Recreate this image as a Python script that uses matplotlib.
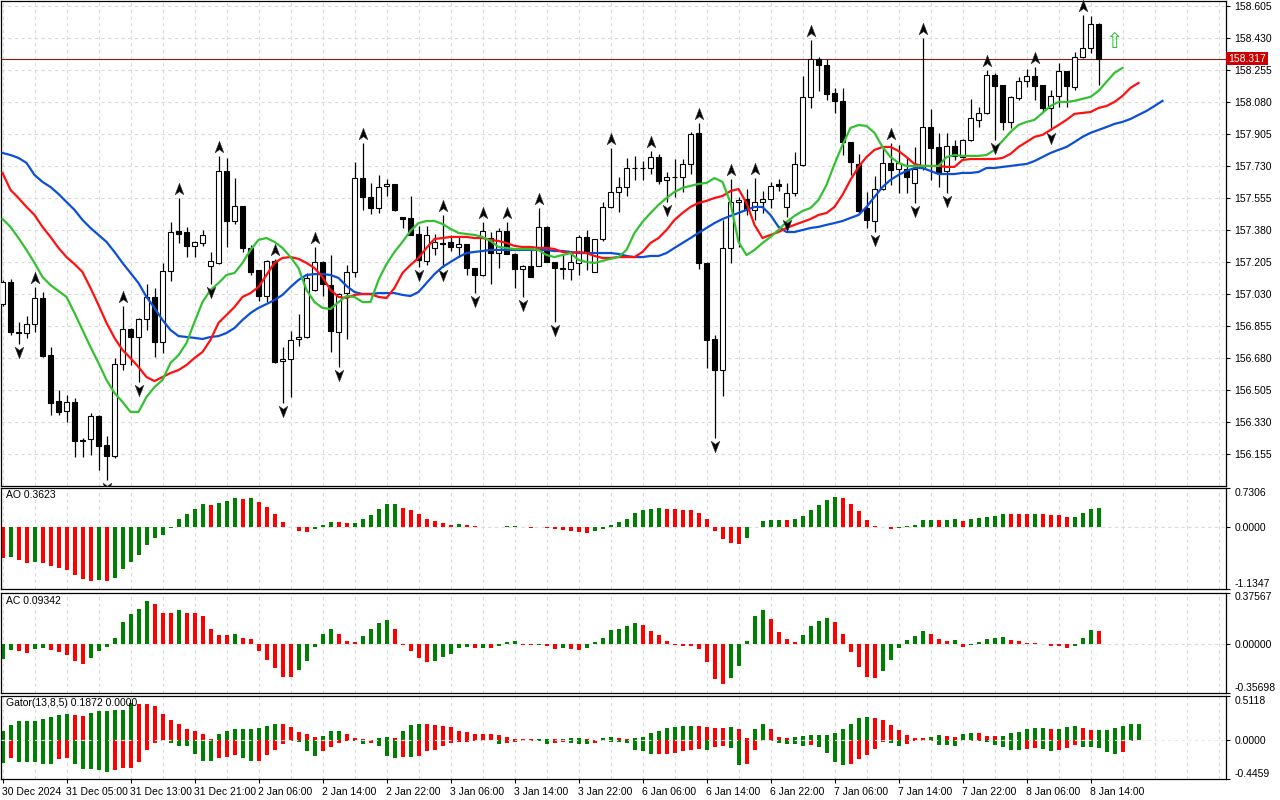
import numpy as np
import matplotlib.pyplot as plt
from matplotlib.path import Path
from matplotlib.transforms import ScaledTranslation, blended_transform_factory

plt.rcParams['font.family'] = ['Liberation Sans', 'DejaVu Sans']

# Hourly candles, 30 Dec 2024 21:00 .. 8 Jan 2025 15:00
opens = [
    156.975, 157.096, 156.822, 156.817, 156.866, 157.008, 156.696, 156.445, 156.390, 156.440,
    156.232, 156.237, 156.363, 156.204, 156.144, 156.647, 156.839, 156.795, 156.893, 157.014,
    156.768, 157.156, 157.375, 157.369, 157.293, 157.309, 157.183, 157.200, 157.703, 157.429,
    157.511, 157.282, 157.161, 157.019, 157.211, 156.664, 156.675, 156.784, 156.795, 157.052,
    157.205, 157.079, 156.822, 157.035, 157.150, 157.664, 157.561, 157.500, 157.621, 157.632,
    157.451, 157.446, 157.358, 157.211, 157.282, 157.309, 157.315, 157.287, 157.304, 157.172,
    157.134, 157.336, 157.254, 157.375, 157.249, 157.167, 157.183, 157.183, 157.397, 157.205,
    157.172, 157.167, 157.200, 157.342, 157.150, 157.331, 157.506, 157.588, 157.615, 157.719,
    157.719, 157.719, 157.779, 157.654, 157.670, 157.670, 157.741, 157.911, 157.200, 156.784,
    156.614, 157.282, 157.533, 157.550, 157.490, 157.533, 157.550, 157.632, 157.506, 157.583,
    157.736, 158.108, 158.315, 158.282, 158.129, 158.086, 157.861, 157.741, 157.500, 157.429,
    157.604, 157.747, 157.714, 157.714, 157.637, 157.719, 157.943, 157.834, 157.703, 157.840,
    157.779, 157.872, 157.982, 158.020, 158.228, 158.173, 157.971, 158.102, 158.195, 158.222,
    158.173, 158.047, 158.113, 158.250, 158.162, 158.326, 158.375, 158.507]
highs = [
    157.107, 157.112, 156.877, 156.910, 157.068, 157.041, 156.740, 156.505, 156.478, 156.461,
    156.243, 156.379, 156.368, 156.253, 156.680, 156.964, 156.844, 156.899, 157.085, 157.063,
    157.200, 157.424, 157.555, 157.397, 157.320, 157.380, 157.260, 157.785, 157.774, 157.664,
    157.511, 157.298, 157.161, 157.216, 157.222, 156.740, 156.828, 156.921, 157.145, 157.287,
    157.211, 157.243, 157.035, 157.189, 157.752, 157.856, 157.637, 157.681, 157.659, 157.632,
    157.451, 157.566, 157.402, 157.402, 157.358, 157.462, 157.353, 157.347, 157.304, 157.172,
    157.424, 157.369, 157.391, 157.424, 157.254, 157.189, 157.293, 157.500, 157.402, 157.205,
    157.243, 157.254, 157.353, 157.380, 157.331, 157.533, 157.829, 157.670, 157.774, 157.785,
    157.757, 157.812, 157.796, 157.697, 157.768, 157.768, 157.916, 157.965, 157.205, 156.806,
    157.435, 157.659, 157.561, 157.604, 157.664, 157.593, 157.643, 157.659, 157.637, 157.807,
    158.222, 158.419, 158.326, 158.315, 158.157, 158.157, 157.861, 157.796, 157.588, 157.675,
    157.829, 157.856, 157.845, 157.779, 157.834, 158.430, 158.042, 157.911, 157.911, 157.872,
    157.878, 158.097, 158.053, 158.255, 158.239, 158.173, 158.113, 158.217, 158.261, 158.272,
    158.173, 158.146, 158.293, 158.250, 158.354, 158.556, 158.551, 158.512]
lows = [
    156.964, 156.806, 156.757, 156.790, 156.822, 156.685, 156.368, 156.368, 156.330, 156.139,
    156.139, 156.150, 156.068, 156.013, 156.133, 156.614, 156.642, 156.549, 156.833, 156.685,
    156.707, 157.101, 157.309, 157.232, 157.232, 157.293, 157.085, 157.194, 157.287, 157.413,
    157.260, 157.134, 156.992, 156.986, 156.653, 156.434, 156.467, 156.746, 156.790, 157.046,
    157.019, 156.713, 156.631, 156.784, 157.123, 157.490, 157.468, 157.473, 157.566, 157.484,
    157.391, 157.353, 157.178, 157.189, 157.243, 157.178, 157.265, 157.232, 157.134, 157.035,
    157.129, 157.085, 157.172, 157.249, 157.063, 157.014, 157.123, 157.183, 157.205, 156.877,
    157.112, 157.107, 157.134, 157.161, 157.150, 157.320, 157.500, 157.479, 157.566, 157.654,
    157.654, 157.686, 157.632, 157.533, 157.561, 157.588, 157.686, 157.167, 156.625, 156.243,
    156.472, 157.200, 157.287, 157.462, 157.435, 157.473, 157.500, 157.593, 157.451, 157.566,
    157.730, 158.047, 158.140, 158.091, 158.020, 157.790, 157.681, 157.473, 157.391, 157.369,
    157.599, 157.626, 157.583, 157.583, 157.528, 157.708, 157.654, 157.615, 157.583, 157.763,
    157.774, 157.867, 157.943, 158.015, 157.872, 157.927, 157.938, 158.091, 158.162, 158.091,
    158.025, 157.927, 158.053, 158.053, 158.146, 158.321, 158.348, 158.173]
closes = [
    157.096, 156.822, 156.817, 156.866, 157.008, 156.691, 156.434, 156.385, 156.440, 156.226,
    156.226, 156.363, 156.199, 156.144, 156.647, 156.839, 156.795, 156.893, 157.014, 156.768,
    157.156, 157.369, 157.358, 157.293, 157.315, 157.353, 157.211, 157.703, 157.429, 157.511,
    157.282, 157.150, 157.019, 157.211, 156.658, 156.675, 156.779, 156.795, 157.118, 157.205,
    157.085, 156.828, 157.030, 157.150, 157.664, 157.561, 157.500, 157.615, 157.632, 157.490,
    157.440, 157.353, 157.216, 157.353, 157.315, 157.306, 157.287, 157.304, 157.172, 157.134,
    157.375, 157.254, 157.375, 157.249, 157.167, 157.183, 157.123, 157.397, 157.205, 157.172,
    157.167, 157.205, 157.342, 157.260, 157.331, 157.506, 157.588, 157.615, 157.719, 157.717,
    157.721, 157.779, 157.648, 157.670, 157.668, 157.741, 157.905, 157.200, 156.779, 156.614,
    157.282, 157.533, 157.544, 157.490, 157.533, 157.550, 157.621, 157.621, 157.583, 157.741,
    158.108, 158.315, 158.282, 158.124, 158.086, 157.861, 157.752, 157.484, 157.435, 157.604,
    157.747, 157.708, 157.747, 157.670, 157.714, 157.943, 157.829, 157.692, 157.840, 157.785,
    157.872, 157.993, 158.020, 158.228, 158.168, 157.971, 158.108, 158.195, 158.222, 158.168,
    158.047, 158.113, 158.250, 158.168, 158.326, 158.375, 158.507, 158.317]

# Alligator lines (already shifted forward 8 / 5 / 3 bars)
jaw = [
    157.801, 157.790, 157.774, 157.747, 157.681, 157.643, 157.615, 157.577, 157.533, 157.490,
    157.435, 157.391, 157.353, 157.315, 157.260, 157.200, 157.145, 157.090, 157.014, 156.954,
    156.888, 156.833, 156.800, 156.795, 156.790, 156.784, 156.795, 156.800, 156.817, 156.844,
    156.888, 156.926, 156.954, 156.975, 156.997, 157.025, 157.068, 157.107, 157.134, 157.139,
    157.139, 157.134, 157.118, 157.074, 157.041, 157.030, 157.030, 157.035, 157.035, 157.035,
    157.025, 157.019, 157.041, 157.090, 157.139, 157.178, 157.205, 157.232, 157.254, 157.260,
    157.265, 157.271, 157.271, 157.271, 157.271, 157.271, 157.271, 157.271, 157.271, 157.265,
    157.265, 157.260, 157.254, 157.254, 157.254, 157.254, 157.254, 157.249, 157.238, 157.232,
    157.232, 157.238, 157.238, 157.254, 157.282, 157.309, 157.336, 157.364, 157.391, 157.418,
    157.440, 157.457, 157.473, 157.490, 157.506, 157.506, 157.462, 157.397, 157.369, 157.369,
    157.380, 157.391, 157.397, 157.408, 157.418, 157.429, 157.446, 157.462, 157.506, 157.561,
    157.615, 157.654, 157.681, 157.703, 157.719, 157.719, 157.703, 157.686, 157.686, 157.686,
    157.692, 157.692, 157.697, 157.719, 157.719, 157.725, 157.730, 157.736, 157.741, 157.757,
    157.779, 157.801, 157.818, 157.834, 157.861, 157.889, 157.911, 157.927, 157.943, 157.960,
    157.971, 157.987, 158.009, 158.031, 158.058, 158.086]
teeth = [
    157.692, 157.599, 157.555, 157.506, 157.462, 157.397, 157.342, 157.282, 157.232, 157.194,
    157.150, 157.063, 156.970, 156.872, 156.790, 156.724, 156.680, 156.631, 156.576, 156.554,
    156.576, 156.598, 156.614, 156.642, 156.680, 156.713, 156.779, 156.872, 156.915, 156.959,
    157.014, 157.035, 157.068, 157.134, 157.200, 157.227, 157.232, 157.222, 157.200, 157.172,
    157.123, 157.052, 157.014, 157.008, 157.025, 157.030, 157.030, 157.014, 157.008, 157.063,
    157.145, 157.189, 157.227, 157.282, 157.331, 157.336, 157.342, 157.342, 157.342, 157.336,
    157.336, 157.326, 157.320, 157.309, 157.293, 157.287, 157.287, 157.282, 157.282, 157.276,
    157.260, 157.254, 157.260, 157.254, 157.238, 157.227, 157.227, 157.232, 157.232, 157.232,
    157.260, 157.309, 157.336, 157.380, 157.435, 157.473, 157.506, 157.528, 157.539, 157.555,
    157.566, 157.593, 157.604, 157.528, 157.408, 157.336, 157.353, 157.369, 157.391, 157.408,
    157.424, 157.440, 157.462, 157.473, 157.506, 157.572, 157.654, 157.725, 157.779, 157.818,
    157.834, 157.834, 157.812, 157.779, 157.741, 157.730, 157.730, 157.730, 157.725, 157.725,
    157.763, 157.768, 157.768, 157.768, 157.768, 157.774, 157.796, 157.834, 157.861, 157.889,
    157.900, 157.927, 157.954, 157.982, 158.015, 158.020, 158.025, 158.047, 158.058, 158.080,
    158.113, 158.157, 158.184]
lips = [
    157.440, 157.397, 157.336, 157.271, 157.200, 157.123, 157.079, 157.046, 157.014, 156.926,
    156.833, 156.740, 156.653, 156.560, 156.489, 156.440, 156.385, 156.385, 156.467, 156.521,
    156.560, 156.653, 156.696, 156.762, 156.877, 156.986, 157.052, 157.090, 157.134, 157.145,
    157.200, 157.271, 157.326, 157.336, 157.315, 157.282, 157.232, 157.172, 157.052, 156.986,
    156.954, 156.948, 156.986, 157.019, 157.014, 156.986, 156.986, 157.107, 157.194, 157.260,
    157.315, 157.375, 157.418, 157.429, 157.429, 157.413, 157.386, 157.364, 157.358, 157.353,
    157.342, 157.320, 157.287, 157.282, 157.276, 157.276, 157.276, 157.271, 157.243, 157.232,
    157.243, 157.254, 157.216, 157.205, 157.200, 157.211, 157.222, 157.232, 157.271, 157.364,
    157.424, 157.473, 157.517, 157.555, 157.588, 157.610, 157.621, 157.632, 157.637, 157.664,
    157.643, 157.528, 157.315, 157.243, 157.271, 157.309, 157.342, 157.380, 157.424, 157.457,
    157.484, 157.500, 157.544, 157.626, 157.741, 157.845, 157.938, 157.954, 157.949, 157.911,
    157.834, 157.779, 157.747, 157.730, 157.730, 157.730, 157.730, 157.730, 157.779, 157.790,
    157.785, 157.785, 157.785, 157.790, 157.818, 157.867, 157.916, 157.954, 157.971, 157.982,
    158.020, 158.058, 158.080, 158.080, 158.086, 158.097, 158.108, 158.140, 158.190, 158.239,
    158.266]

# Fractal bars
fractal_up = [4, 15, 22, 27, 34, 39, 45, 55, 60, 63, 67, 76, 81, 87, 91, 94, 101, 111, 115, 123, 129, 135]
fractal_down = [2, 13, 17, 26, 35, 42, 52, 55, 59, 65, 69, 83, 89, 98, 109, 114, 118, 124, 131]

# Awesome Oscillator
ao_prev = -0.55
ao = [
    -0.560, -0.555, -0.600, -0.650, -0.645, -0.655, -0.710, -0.740, -0.790, -0.880,
    -0.960, -0.980, -0.975, -0.980, -0.930, -0.760, -0.640, -0.510, -0.330, -0.200,
    -0.140, -0.010, 0.150, 0.240, 0.330, 0.420, 0.415, 0.440, 0.490, 0.530,
    0.525, 0.530, 0.460, 0.370, 0.240, 0.100, 0.010, -0.060, -0.080, -0.040,
    0.040, 0.100, 0.098, 0.080, 0.085, 0.150, 0.220, 0.330, 0.420, 0.425,
    0.350, 0.310, 0.240, 0.160, 0.110, 0.070, 0.050, 0.052, 0.040, 0.020,
    0.003, 0.002, 0.010, 0.020, 0.022, -0.004, -0.006, 0.003, -0.010, -0.040,
    -0.050, -0.070, -0.090, -0.100, -0.060, -0.030, 0.050, 0.100, 0.160, 0.260,
    0.310, 0.330, 0.350, 0.335, 0.330, 0.315, 0.310, 0.270, 0.150, -0.060,
    -0.210, -0.290, -0.300, -0.200, 0.005, 0.106, 0.126, 0.140, 0.135, 0.145,
    0.210, 0.320, 0.415, 0.500, 0.560, 0.540, 0.435, 0.300, 0.140, 0.030,
    0.005, -0.030, -0.010, 0.024, 0.048, 0.135, 0.137, 0.126, 0.140, 0.155,
    0.110, 0.158, 0.168, 0.188, 0.200, 0.240, 0.239, 0.238, 0.237, 0.240,
    0.238, 0.222, 0.220, 0.185, 0.187, 0.256, 0.330, 0.3623]

# Accelerator Oscillator
ac_prev = -0.12
ac = [
    -0.106, -0.044, -0.048, -0.063, -0.036, -0.027, -0.041, -0.056, -0.077, -0.121,
    -0.143, -0.100, -0.048, -0.020, 0.044, 0.160, 0.218, 0.254, 0.312, 0.290,
    0.225, 0.224, 0.247, 0.225, 0.224, 0.203, 0.109, 0.066, 0.064, 0.073,
    0.044, 0.036, -0.051, -0.116, -0.174, -0.238, -0.239, -0.189, -0.123, -0.020,
    0.073, 0.109, 0.070, 0.022, 0.015, 0.058, 0.109, 0.152, 0.174, 0.109,
    -0.007, -0.048, -0.099, -0.128, -0.127, -0.092, -0.070, -0.027, -0.020, -0.027,
    -0.026, -0.027, -0.012, 0.017, 0.022, -0.005, -0.006, -0.004, -0.012, -0.036,
    -0.027, -0.036, -0.041, -0.027, 0.015, 0.044, 0.100, 0.109, 0.130, 0.152,
    0.138, 0.094, 0.065, 0.022, -0.005, -0.012, -0.013, -0.034, -0.128, -0.256,
    -0.288, -0.250, -0.157, 0.022, 0.203, 0.247, 0.181, 0.087, 0.036, 0.015,
    0.065, 0.131, 0.167, 0.189, 0.160, 0.073, -0.056, -0.164, -0.239, -0.251,
    -0.200, -0.114, -0.027, 0.029, 0.058, 0.094, 0.073, 0.036, 0.022, 0.029,
    -0.022, -0.005, 0.015, 0.036, 0.044, 0.051, 0.029, 0.022, 0.007, 0.005,
    -0.003, -0.012, -0.013, -0.027, -0.012, 0.044, 0.100, 0.09342]

# Gator oscillator: upper |jaw-teeth|, lower -|teeth-lips|
gator_up_prev = 0.09
gator_up = [
    0.100, 0.170, 0.215, 0.218, 0.220, 0.240, 0.270, 0.285, 0.300, 0.285,
    0.280, 0.310, 0.335, 0.338, 0.340, 0.342, 0.430, 0.420, 0.418, 0.390,
    0.300, 0.230, 0.180, 0.130, 0.100, 0.070, 0.015, 0.070, 0.110, 0.122,
    0.124, 0.126, 0.140, 0.160, 0.190, 0.180, 0.150, 0.090, 0.065, 0.040,
    0.045, 0.100, 0.110, 0.070, 0.025, 0.008, 0.006, 0.027, 0.034, 0.020,
    0.110, 0.170, 0.182, 0.180, 0.178, 0.160, 0.150, 0.110, 0.090, 0.072,
    0.071, 0.070, 0.057, 0.034, 0.016, 0.015, 0.008, 0.010, 0.015, 0.008,
    0.009, 0.023, 0.025, 0.008, 0.007, 0.023, 0.034, 0.023, 0.010, 0.020,
    0.034, 0.080, 0.100, 0.137, 0.148, 0.158, 0.160, 0.159, 0.148, 0.137,
    0.136, 0.148, 0.125, 0.027, 0.125, 0.180, 0.125, 0.034, 0.023, 0.034,
    0.045, 0.056, 0.057, 0.058, 0.080, 0.125, 0.190, 0.250, 0.270, 0.250,
    0.230, 0.170, 0.114, 0.057, 0.023, 0.020, 0.034, 0.057, 0.045, 0.034,
    0.068, 0.080, 0.079, 0.045, 0.044, 0.046, 0.080, 0.090, 0.125, 0.137,
    0.138, 0.125, 0.126, 0.148, 0.160, 0.137, 0.114, 0.115, 0.116, 0.137,
    0.160, 0.180, 0.1872]
gator_low_prev = -0.25
gator_low = [
    -0.260, -0.210, -0.250, -0.252, -0.254, -0.270, -0.272, -0.220, -0.200, -0.270,
    -0.330, -0.332, -0.340, -0.360, -0.340, -0.320, -0.318, -0.250, -0.110, -0.030,
    -0.015, -0.030, -0.070, -0.072, -0.160, -0.240, -0.242, -0.210, -0.190, -0.170,
    -0.210, -0.240, -0.238, -0.170, -0.110, -0.040, -0.015, -0.017, -0.120, -0.180,
    -0.130, -0.075, -0.030, -0.012, -0.015, -0.040, -0.038, -0.065, -0.180, -0.200,
    -0.190, -0.191, -0.180, -0.130, -0.110, -0.065, -0.030, -0.020, -0.019, -0.010,
    -0.005, -0.004, -0.040, -0.030, -0.020, -0.015, -0.008, -0.015, -0.050, -0.030,
    -0.016, -0.030, -0.040, -0.050, -0.030, -0.015, -0.016, -0.017, -0.030, -0.110,
    -0.130, -0.156, -0.155, -0.154, -0.153, -0.130, -0.110, -0.100, -0.110, -0.076,
    -0.070, -0.087, -0.280, -0.270, -0.110, -0.008, -0.005, -0.030, -0.040, -0.041,
    -0.065, -0.053, -0.076, -0.145, -0.250, -0.280, -0.270, -0.220, -0.170, -0.100,
    -0.020, -0.030, -0.065, -0.040, -0.010, -0.008, -0.007, -0.053, -0.054, -0.065,
    -0.010, -0.005, -0.006, -0.020, -0.053, -0.076, -0.110, -0.111, -0.100, -0.087,
    -0.100, -0.120, -0.119, -0.087, -0.053, -0.076, -0.077, -0.087, -0.133, -0.156,
    -0.133, -0.010]

price_ticks = [156.155, 156.330, 156.505, 156.680, 156.855, 157.030, 157.205, 157.380,
               157.555, 157.730, 157.905, 158.080, 158.255, 158.430, 158.605]
time_labels = ['30 Dec 2024', '31 Dec 05:00', '31 Dec 13:00', '31 Dec 21:00', '2 Jan 06:00',
               '2 Jan 14:00', '2 Jan 22:00', '3 Jan 06:00', '3 Jan 14:00', '3 Jan 22:00',
               '6 Jan 06:00', '6 Jan 14:00', '6 Jan 22:00', '7 Jan 06:00', '7 Jan 14:00',
               '7 Jan 22:00', '8 Jan 06:00', '8 Jan 14:00']
time_label_bars = [8 * k for k in range(len(time_labels))]
current_price = 158.317
signal_bar, signal_price = 139, 158.41

GREEN, RED = '#008000', '#ff0000'
GRID = '#dadada'
FS = 7.5


def dir_colors(vals, prev):
    v = np.abs(np.concatenate([[prev], vals]))
    return np.where(np.diff(v) > 0, GREEN, RED)


def dir_colors_signed(vals, prev):
    v = np.concatenate([[prev], vals])
    return np.where(np.diff(v) > 0, GREEN, RED)


fig = plt.figure(figsize=(12.8, 8), dpi=100)
W, H = 1280, 800


def panel(top, bottom):
    a = fig.add_axes([1 / W, 1 - bottom / H, 1225 / W, (bottom - top) / H])
    a.set_xlim(-0.1875, 152.9375)
    for s in a.spines.values():
        s.set_linewidth(0.9)
    a.yaxis.tick_right()
    a.tick_params(axis='y', direction='out', length=3, width=0.8, pad=3, labelsize=FS)
    a.tick_params(axis='x', bottom=False, labelbottom=False)
    # vertical dashed grid every 4 bars
    for k in range(0, 153, 4):
        a.axvline(k, color=GRID, lw=0.8, ls=(0, (3, 3)), zorder=0)
    return a


ax = panel(1, 485.5)
ax_ao = panel(487.5, 589)
ax_ac = panel(592.5, 693)
ax_gt = panel(695.5, 779)

# ---- main price panel
o, h, l, c = map(np.array, (opens, highs, lows, closes))
idx = np.arange(len(o))
ax.set_ylim(155.983, 158.632)
for p in price_ticks:
    ax.axhline(p, color=GRID, lw=0.8, ls=(0, (3, 3)), zorder=0)
ax.set_yticks(price_ticks)
ax.set_yticklabels([f'{p:.3f}' for p in price_ticks])

ax.vlines(idx, l, h, color='black', lw=0.9, zorder=2)
up = c >= o
ax.bar(idx, np.maximum(np.abs(c - o), 0.0015), bottom=np.minimum(o, c), width=0.56,
       color=np.where(up, 'white', 'black'), edgecolor='black', linewidth=0.8, zorder=3)

ax.plot(np.arange(len(jaw)), jaw, color='#0b4fd9', lw=1.6, zorder=4)
ax.plot(np.arange(len(teeth)), teeth, color='#ff1010', lw=1.6, zorder=4)
ax.plot(np.arange(len(lips)), lips, color='#33c133', lw=1.6, zorder=4)

# fractal arrows
up_marker = Path([(0, 1), (0.7, -0.85), (0, -0.35), (-0.7, -0.85), (0, 1)],
                 [Path.MOVETO, Path.LINETO, Path.LINETO, Path.LINETO, Path.CLOSEPOLY])
dn_marker = Path([(0, -1), (0.7, 0.85), (0, 0.35), (-0.7, 0.85), (0, -1)],
                 [Path.MOVETO, Path.LINETO, Path.LINETO, Path.LINETO, Path.CLOSEPOLY])
shift_up = ax.transData + ScaledTranslation(0, 6.3 / 72, fig.dpi_scale_trans)
shift_dn = ax.transData + ScaledTranslation(0, -6.0 / 72, fig.dpi_scale_trans)
ax.plot(fractal_up, h[fractal_up], ls='none', marker=up_marker, ms=9, color='black',
        mec='#3a3a3a', mew=0.4, transform=shift_up, zorder=5, clip_on=False)
ax.plot(fractal_down, l[fractal_down], ls='none', marker=dn_marker, ms=9, color='black',
        mec='#3a3a3a', mew=0.4, transform=shift_dn, zorder=5)

# current price line and label
ax.axhline(current_price, color='#8b1a1a', lw=0.8, zorder=1.5)
ax.text(1.0 + 2 / 1225, current_price, f'{current_price:.3f}',
        transform=blended_transform_factory(ax.transAxes, ax.transData),
        ha='left', va='center', color='white', fontsize=FS, clip_on=False,
        bbox=dict(boxstyle='square,pad=0.18', fc='#cc0000', ec='none'))

ax.text(signal_bar, signal_price, '\u21e7', color='#2ec42e', fontsize=15,
        ha='center', va='center', family=['DejaVu Sans'], zorder=6)

# ---- sub panels
def sub_axis(a, lo, hi, fmt):
    a.set_ylim(lo, hi)
    a.set_yticks([lo, 0, hi])
    a.set_yticklabels([fmt.format(lo), fmt.format(0), fmt.format(hi)])
    labs = a.get_yticklabels()
    labs[0].set_verticalalignment('bottom')
    labs[2].set_verticalalignment('top')


def name_label(a, text):
    a.annotate(text, xy=(0, 1), xycoords='axes fraction', xytext=(5, -3),
               textcoords='offset pixels', ha='left', va='top', fontsize=FS)


# AO
sub_axis(ax_ao, -1.1347, 0.7306, '{:.4f}')
ax_ao.axhline(0, color=GRID, lw=0.8, ls=(0, (3, 3)), zorder=0)
ax_ao.bar(np.arange(len(ao)), ao, width=0.5, color=dir_colors_signed(ao, ao_prev), lw=0, zorder=2)
name_label(ax_ao, f'AO {ao[-1]:.4f}')

# AC
sub_axis(ax_ac, -0.35698, 0.37567, '{:.5f}')
ax_ac.axhline(0, color=GRID, lw=0.8, ls=(0, (3, 3)), zorder=0)
ax_ac.bar(np.arange(len(ac)), ac, width=0.5, color=dir_colors_signed(ac, ac_prev), lw=0, zorder=2)
name_label(ax_ac, f'AC {ac[-1]:.5f}')

# Gator
sub_axis(ax_gt, -0.4459, 0.5118, '{:.4f}')
ax_gt.bar(np.arange(len(gator_up)), gator_up, width=0.5,
          color=dir_colors(gator_up, gator_up_prev), lw=0, zorder=2)
ax_gt.bar(np.arange(len(gator_low)), gator_low, width=0.5,
          color=dir_colors(gator_low, gator_low_prev), lw=0, zorder=2)
ax_gt.axhline(0, color='#e8e8e8', lw=0.8, ls=(0, (3, 3)), zorder=3)
name_label(ax_gt, f'Gator(13,8,5) {gator_up[-1]:.4f} 0.0000')

# time axis
ax_gt.tick_params(axis='x', bottom=True, labelbottom=True, direction='out',
                  length=3, width=0.8, pad=3, labelsize=FS)
ax_gt.set_xticks(time_label_bars)
ax_gt.set_xticklabels(time_labels)
for t in ax_gt.get_xticklabels():
    t.set_horizontalalignment('left')

fig.savefig('out.png', dpi=100)
